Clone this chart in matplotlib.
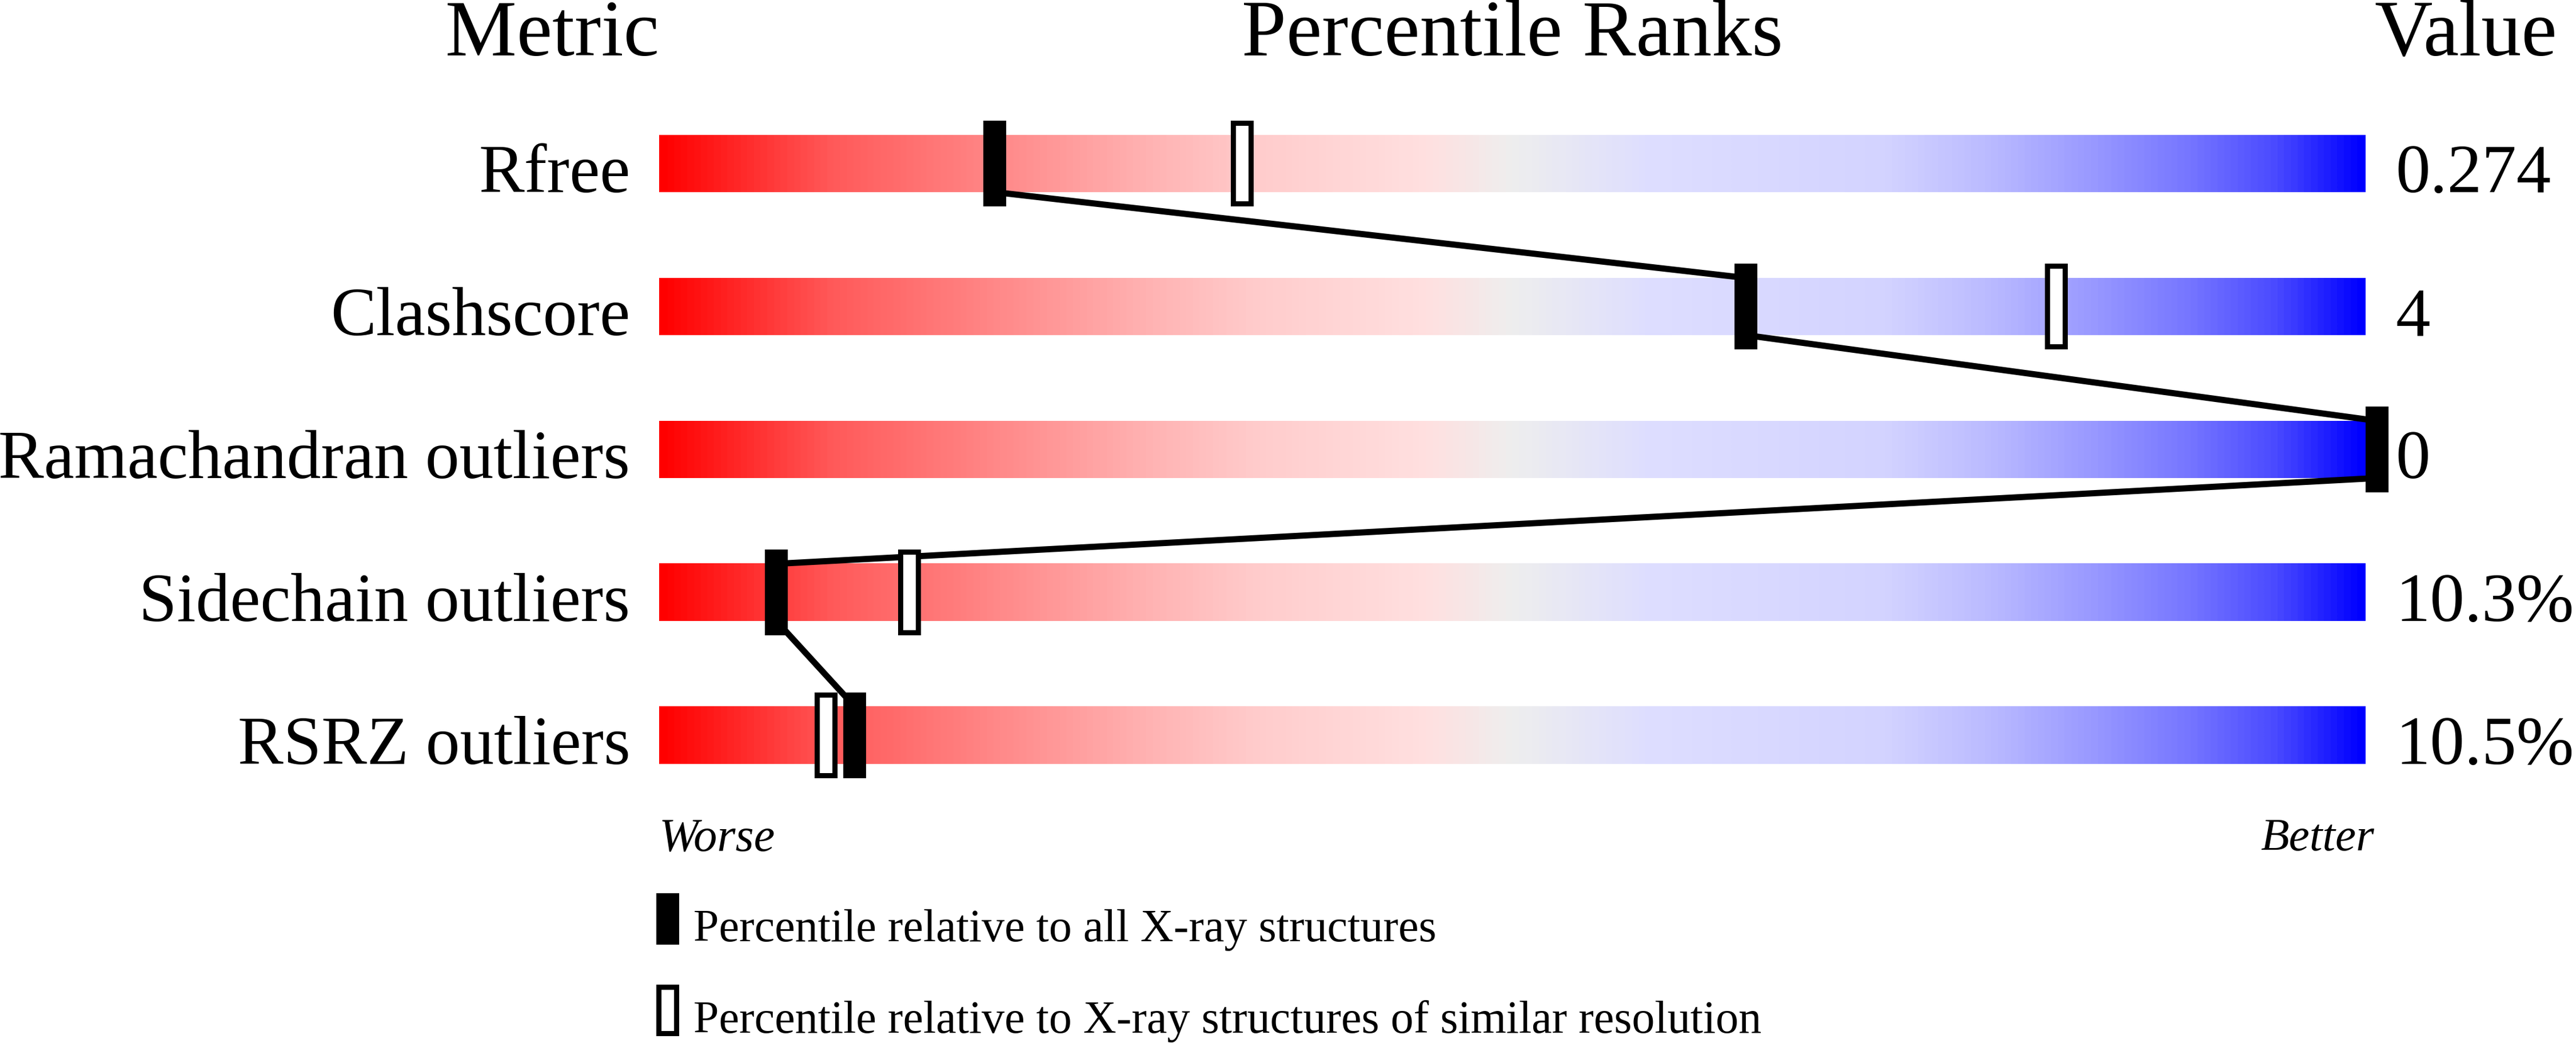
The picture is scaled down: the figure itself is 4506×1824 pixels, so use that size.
import numpy as np
import matplotlib
matplotlib.use('Agg')
import matplotlib.pyplot as plt
from matplotlib.colors import LinearSegmentedColormap
from matplotlib.patches import Rectangle

plt.rcParams['font.family'] = ['Liberation Serif', 'DejaVu Serif']

# chart data
metrics = ['Rfree', 'Clashscore', 'Ramachandran outliers', 'Sidechain outliers', 'RSRZ outliers']
values = ['0.274', '4', '0', '10.3%', '10.5%']
pct_all = [19.0, 63.0, 100.0, 6.2, 10.8]          # relative to all X-ray structures
pct_sim = [33.5, 81.2, np.nan, 14.0, 9.1]         # relative to similar resolution

# red -> grey -> blue slider gradient
stops = [(0.00, '#ff0000'), (0.10, '#ff5a5a'), (0.20, '#ff8a8a'), (0.28, '#ffb0b0'),
         (0.35, '#ffcccc'), (0.45, '#ffe0e0'), (0.50, '#eeeeee'), (0.58, '#dedeff'),
         (0.72, '#d3d3ff'), (0.78, '#bbbbff'), (0.84, '#9a9aff'), (0.90, '#7575ff'),
         (0.95, '#4a4aff'), (1.00, '#0000ff')]
cmap = LinearSegmentedColormap.from_list('slider', stops)

W, H, DPI = 4506, 1824, 300
fig = plt.figure(figsize=(W / DPI, H / DPI), dpi=DPI)
ax = fig.add_axes([0, 0, 1, 1])
ax.axis('off')

# x: percentile, y: row index (pixel layout of the reference)
px_left, px_per = 1153, 29.85
row0, row_step = 286, 250
ax.set_xlim(-px_left / px_per, (W - px_left) / px_per)
ax.set_ylim((H - row0) / row_step, -row0 / row_step)

bar_h = 0.4
mk_h = 0.6
mk_w = 40 / px_per
inset_x = 9 / px_per
inset_y = 9 / row_step

grad = np.linspace(0, 1, 512).reshape(1, -1)
for i, (name, val) in enumerate(zip(metrics, values)):
    ax.imshow(grad, cmap=cmap, aspect='auto', interpolation='bilinear',
              extent=[0, 100, i + bar_h / 2, i - bar_h / 2], zorder=1)
    ax.text(-1.7, i + bar_h / 2, name, ha='right', va='baseline', fontsize=28.7)
    ax.text(101.75, i + bar_h / 2, val, ha='left', va='baseline', fontsize=29)

# connecting line between "all structures" markers
lx, ly = [], []
for i, p in enumerate(pct_all):
    c = p + mk_w / 2
    lx += [c, c]
    ly += [i - bar_h / 2, i + bar_h / 2]
ax.plot(lx, ly, color='black', lw=2.6, zorder=2, solid_joinstyle='miter')

def open_marker(x, y0, h, zorder=3):
    ax.add_patch(Rectangle((x, y0), mk_w, h, facecolor='black', edgecolor='none', zorder=zorder))
    ax.add_patch(Rectangle((x + inset_x, y0 + inset_y), mk_w - 2 * inset_x, h - 2 * inset_y,
                           facecolor='white', edgecolor='none', zorder=zorder + 0.1))

for i, p in enumerate(pct_sim):
    if not np.isnan(p):
        open_marker(p, i - mk_h / 2, mk_h)
for i, p in enumerate(pct_all):
    ax.add_patch(Rectangle((p, i - mk_h / 2), mk_w, mk_h, facecolor='black',
                           edgecolor='none', zorder=4))

# headers
hy = (97 - row0) / row_step
ax.text(0, hy, 'Metric', ha='right', va='baseline', fontsize=33.7)
ax.text(50, hy, 'Percentile Ranks', ha='center', va='baseline', fontsize=33.7)
ax.text(100.5, hy, 'Value', ha='left', va='baseline', fontsize=33.7)

# worse / better
wy = (1487 - row0) / row_step
ax.text(0, wy, 'Worse', ha='left', va='baseline', fontsize=19.8, style='italic')
ax.text(100.5, wy, 'Better', ha='right', va='baseline', fontsize=19.5, style='italic')

# legend
lg1 = (1562 - row0) / row_step
lg2 = (1722 - row0) / row_step
lg_h = 90 / row_step
lg_x = (1148 - px_left) / px_per
ax.add_patch(Rectangle((lg_x, lg1), mk_w, lg_h, facecolor='black', edgecolor='none'))
open_marker(lg_x, lg2, lg_h)
tx = (1213 - px_left) / px_per
ax.text(tx, (1646 - row0) / row_step, 'Percentile relative to all X-ray structures',
        ha='left', va='baseline', fontsize=19.2)
ax.text(tx, (1806 - row0) / row_step, 'Percentile relative to X-ray structures of similar resolution',
        ha='left', va='baseline', fontsize=19.2)

fig.savefig('out.png', dpi=DPI, facecolor='white')
